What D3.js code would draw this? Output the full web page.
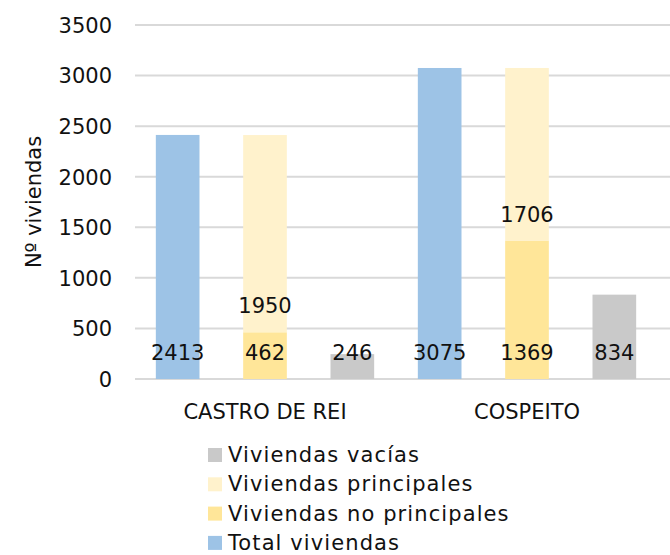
<!DOCTYPE html>
<html>
<head>
<meta charset="utf-8">
<script src="https://cdn.jsdelivr.net/npm/d3@7"></script>
<style>
  html, body { margin: 0; padding: 0; background: #fff; }
  svg { display: block; }
  text { font-family: "Century Gothic", "DejaVu Sans", sans-serif; fill: #111; }
</style>
</head>
<body>
<svg id="chart" width="670" height="555"></svg>
<script>
// Municipalities
const categories = ["CASTRO DE REI", "COSPEITO"];
// Series values per municipality
const totalViviendas = [2413, 3075];
const noPrincipales = [462, 1369];
const principales = [1950, 1706];
const vacias = [246, 834];
// Axis ticks
const yTicks = [0, 500, 1000, 1500, 2000, 2500, 3000, 3500];
const yTitle = "Nº viviendas";
const legendLabels = ["Viviendas vacías", "Viviendas principales", "Viviendas no principales", "Total viviendas"];

const colors = {
  total: "#9DC3E6",
  noPrincipales: "#FFE699",
  principales: "#FFF2CC",
  vacias: "#C9C9C9"
};

const svg = d3.select("#chart");
const fontSize = 21;

const y = d3.scaleLinear().domain([0, 3500]).range([379, 25]);
const x0 = d3.scaleBand().domain(categories).range([134, 658]).padding(0);
const slots = ["total", "stack", "vacias"];
const x1 = d3.scaleBand().domain(slots).range([0, x0.bandwidth()])
  .paddingInner(0.5).paddingOuter(0.25);

// Horizontal gridlines
svg.append("g").selectAll("line").data(yTicks).join("line")
  .attr("x1", 135).attr("x2", 670)
  .attr("y1", d => y(d)).attr("y2", d => y(d))
  .attr("stroke", "#D9D9D9").attr("stroke-width", 2);

// Y axis tick labels
const yAxis = d3.axisLeft(y).tickValues(yTicks).tickFormat(d3.format("d")).tickSize(0).tickPadding(0);
const yg = svg.append("g").attr("transform", "translate(112,0)").call(yAxis);
yg.select(".domain").remove();
yg.selectAll("text").style("font-size", fontSize + "px").attr("dy", "0.35em");

// Y axis title
svg.append("text")
  .attr("transform", `translate(41,${(y(0) + y(3500)) / 2}) rotate(-90)`)
  .attr("text-anchor", "middle")
  .style("font-size", fontSize + "px")
  .text(yTitle);

const rows = categories.map((c, i) => ({
  cat: c,
  total: totalViviendas[i],
  noPrin: noPrincipales[i],
  prin: principales[i],
  vac: vacias[i]
}));

const g = svg.append("g");
const groups = g.selectAll("g.cat").data(rows).join("g")
  .attr("transform", d => `translate(${x0(d.cat)},0)`);

// Total viviendas
groups.append("rect")
  .attr("x", x1("total")).attr("width", x1.bandwidth())
  .attr("y", d => y(d.total)).attr("height", d => y(0) - y(d.total))
  .attr("fill", colors.total);

// Stacked: no principales (bottom) + principales (top)
groups.append("rect")
  .attr("x", x1("stack")).attr("width", x1.bandwidth())
  .attr("y", d => y(d.noPrin)).attr("height", d => y(0) - y(d.noPrin))
  .attr("fill", colors.noPrincipales);
groups.append("rect")
  .attr("x", x1("stack")).attr("width", x1.bandwidth())
  .attr("y", d => y(d.noPrin + d.prin)).attr("height", d => y(d.noPrin) - y(d.noPrin + d.prin))
  .attr("fill", colors.principales);

// Viviendas vacías
groups.append("rect")
  .attr("x", x1("vacias")).attr("width", x1.bandwidth())
  .attr("y", d => y(d.vac)).attr("height", d => y(0) - y(d.vac))
  .attr("fill", colors.vacias);

// Data labels at the inside base of each segment
const labelOffset = 19;
function addLabel(slot, base, val) {
  groups.append("text")
    .attr("x", x1(slot) + x1.bandwidth() / 2)
    .attr("y", d => y(base(d)) - labelOffset)
    .attr("text-anchor", "middle")
    .style("font-size", fontSize + "px")
    .text(val);
}
addLabel("total", d => 0, d => d.total);
addLabel("stack", d => 0, d => d.noPrin);
addLabel("stack", d => d.noPrin, d => d.prin);
addLabel("vacias", d => 0, d => d.vac);

// Category labels
svg.append("g").selectAll("text").data(categories).join("text")
  .attr("x", d => x0(d) + x0.bandwidth() / 2)
  .attr("y", 419)
  .attr("text-anchor", "middle")
  .style("font-size", fontSize + "px")
  .text(d => d);

// Legend
const legendColors = [colors.vacias, colors.principales, colors.noPrincipales, colors.total];
const lg = svg.append("g").selectAll("g").data(legendLabels).join("g")
  .attr("transform", (d, i) => `translate(208,${462 + i * 29.3})`);
lg.append("rect")
  .attr("x", 0).attr("y", -14).attr("width", 14).attr("height", 14)
  .attr("fill", (d, i) => legendColors[i]);
lg.append("text")
  .attr("x", 20).attr("y", 0)
  .style("font-size", fontSize + "px")
  .style("letter-spacing", "1.1px")
  .text(d => d);
</script>
</body>
</html>
